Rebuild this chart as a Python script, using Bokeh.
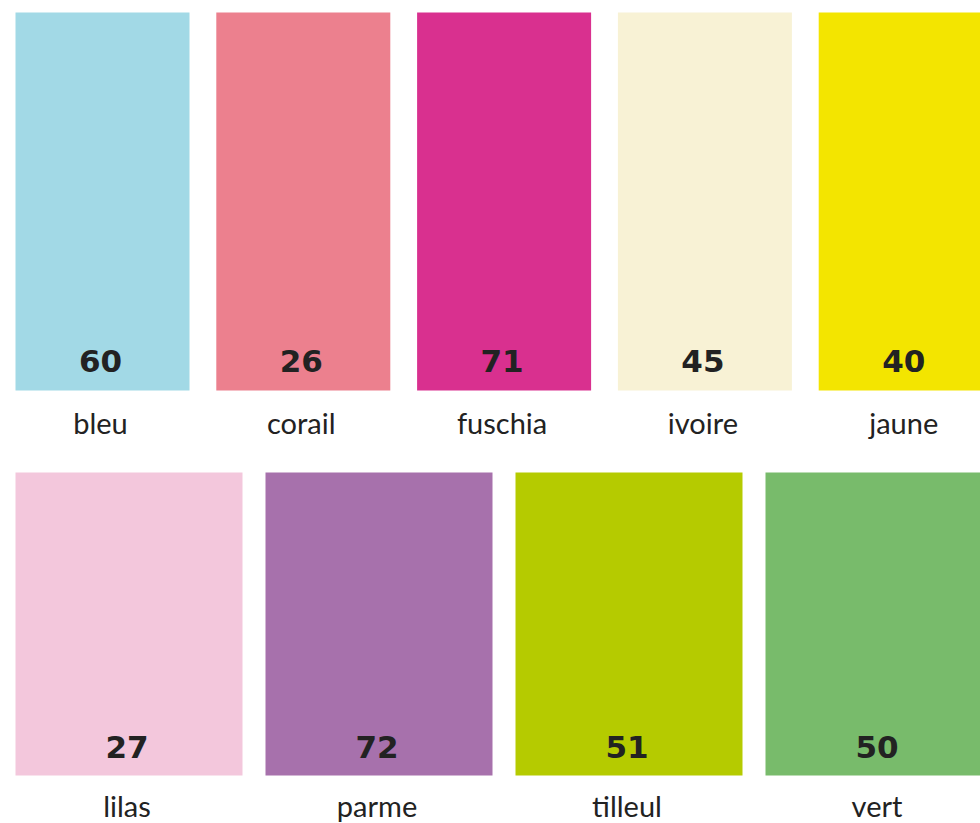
from bokeh.plotting import figure
from bokeh.models import ColumnDataSource, Range1d
from bokeh.core.properties import value
from bokeh.embed import file_html
from bokeh.resources import INLINE

# Data
names = ["bleu", "corail", "fuschia", "ivoire", "jaune", "lilas", "parme", "tilleul", "vert"]
counts = [60, 26, 71, 45, 40, 27, 72, 51, 50]
colors = ["#a2d9e6", "#ec808e", "#d9308f", "#f8f2d5", "#f3e500",
          "#f3c7dc", "#a771ac", "#b5cb00", "#78bb6b"]
row_of = [0, 0, 0, 0, 0, 1, 1, 1, 1]

W, H = 980, 823

# Layout (pixel units of the figure)
rows = {
    0: dict(x0=15, pitch=200.8, w=174, top=12, bottom=390, num_y=360, lab_y=422),
    1: dict(x0=15, pitch=250, w=227, top=472, bottom=775, num_y=746, lab_y=805),
}

left, right, top, bottom, cx, ny, ly = [], [], [], [], [], [], []
col_in_row = {0: 0, 1: 0}
for r in row_of:
    L = rows[r]
    k = col_in_row[r]
    col_in_row[r] += 1
    l = L["x0"] + k * L["pitch"]
    left.append(l)
    right.append(l + L["w"])
    top.append(L["top"])
    bottom.append(L["bottom"])
    cx.append(l + L["w"] / 2 - 2)
    ny.append(L["num_y"])
    ly.append(L["lab_y"])

src = ColumnDataSource(dict(left=left, right=right, top=top, bottom=bottom,
                            cx=cx, ny=ny, ly=ly, name=names,
                            count=[str(c) for c in counts], color=colors))

p = figure(width=W, height=H, output_backend="svg", toolbar_location=None,
           x_range=Range1d(0, W), y_range=Range1d(H, 0), min_border=0)
p.axis.visible = False
p.grid.visible = False
p.outline_line_color = None
p.background_fill_color = "white"
p.border_fill_color = "white"

p.quad(left="left", right="right", top="top", bottom="bottom", source=src,
       fill_color="color", line_color=None)

p.text(x="cx", y="ny", text="count", source=src, text_align="center",
       text_baseline="middle", text_font=value("DejaVu Sans"),
       text_font_style="bold", text_font_size="31px", text_color="#222222")

p.text(x="cx", y="ly", text="name", source=src, text_align="center",
       text_baseline="middle", text_font=value("Lato"),
       text_font_size="29px", text_color="#222222")

open("out.html", "w").write(file_html(p, INLINE))
